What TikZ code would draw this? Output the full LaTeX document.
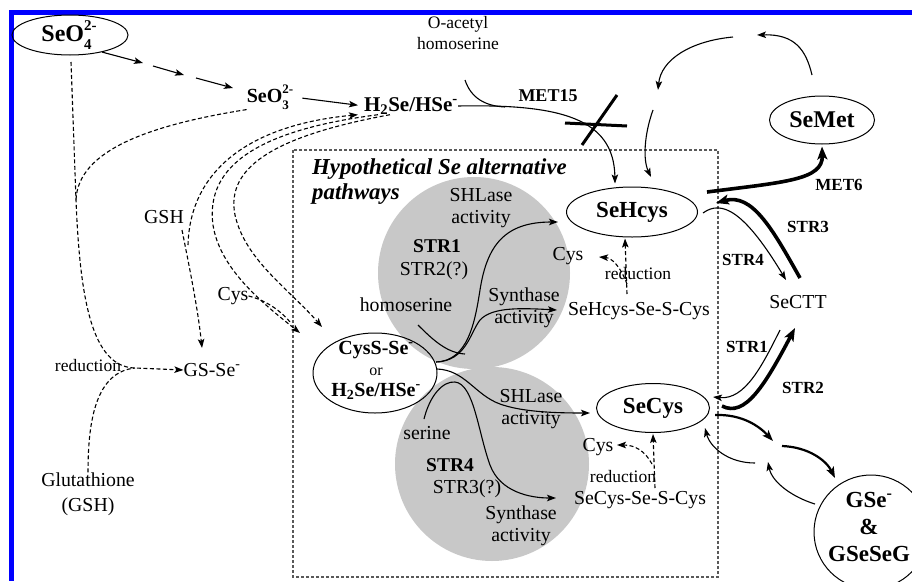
\documentclass[tikz,border=0pt]{standalone}
\usepackage{fontspec}
\setmainfont{Liberation Serif}
\usetikzlibrary{shapes.geometric,arrows.meta}
\definecolor{cg}{RGB}{200,200,200}
\definecolor{fblue}{RGB}{0,0,255}
\newcommand\fs[2]{\fontsize{#1}{#2}\selectfont}
\newcommand\sbsp[3]{\makebox[0pt][l]{\raisebox{-0.32em}{\fs{#1}{#1}#2}}\raisebox{0.48em}{\fs{#1}{#1}#3}}
\begin{document}
\begin{tikzpicture}[x=1pt,y=-1pt,
 ln/.style={line width=1.1pt},
 arr/.style={line width=1.1pt,-{Stealth[length=9pt,width=6.5pt,inset=2pt]}},
 dln/.style={line width=1.1pt,dash pattern=on 4pt off 2.5pt},
 darr/.style={dln,-{Stealth[length=9pt,width=6.5pt,inset=2pt]}},
 heavy/.style={line width=3.6pt,-{Stealth[length=13pt,width=10pt,inset=3pt]}},
 medium/.style={line width=2.2pt,-{Stealth[length=11pt,width=8pt,inset=2.5pt]}},
 ellsh/.style={ellipse,draw,line width=1pt,inner sep=0pt},
 txt/.style={inner sep=0pt,align=center,font=\fs{19.8}{22}},
 txtb/.style={inner sep=0pt,align=center,font=\fs{19.5}{22}\bfseries},
 lb/.style={inner sep=0pt,font=\fs{17}{20}\bfseries},
 rtxt/.style={inner sep=0pt,font=\fs{17.5}{20}},
 boxd/.style={line width=1.1pt,dash pattern=on 3pt off 2pt,black!65}
]
\useasboundingbox (0,0) rectangle (912,581);
\begin{scope}
\clip (0,0) rectangle (912,581);
% frame
\fill[fblue] (8.5,9.5) rectangle (912,14.5);
\fill[fblue] (8.5,9.5) rectangle (13.5,581);
% grey discs and dashed box
\fill[cg] (474,273) circle[radius=96pt];
\fill[cg] (492,464) circle[radius=97pt];
\draw[boxd] (293,150) rectangle (718,577);

% ---------- nodes ----------
\node[ellsh,minimum width=116pt,minimum height=40pt] (seo4) at (70,35) {};
\node[inner sep=0pt,font=\fs{24}{24}\bfseries] (seo4t) at (69,35) {SeO\sbsp{15}{4}{2-}};
\node[inner sep=0pt,font=\fs{20}{20}\bfseries] (seo3) at (270,97) {SeO\sbsp{13}{3}{2-}};
\node[inner sep=0pt,font=\fs{21}{21}\bfseries] (h2se) at (411,106) {H\textsubscript{2}Se/HSe\textsuperscript{-}};
\node[inner sep=0pt,align=center,font=\fs{17.5}{21}] (oacetyl) at (458,33) {O-acetyl\\homoserine};
\node[inner sep=0pt,font=\fs{18}{18}\bfseries] (met15) at (548,96) {MET15};
\node[ellsh,minimum width=105pt,minimum height=48pt] (semet) at (822,120) {};
\node[inner sep=0pt,font=\fs{24}{24}\bfseries] (semett) at (822,120) {SeMet};
\node[anchor=north west,inner sep=0pt,align=left,font=\fs{22.8}{25}\bfseries\itshape] (hypo) at (312,158) {Hypothetical Se alternative\\pathways};

\node[txt] (shl1) at (481,208) {SHLase\\activity};
\node[txtb] (str1) at (437,246) {STR1};
\node[txt] (str2q) at (434,271) {STR2(?)};
\node[txt] (homos) at (406,305) {homoserine};
\node[txt] (syn1) at (524,308) {Synthase\\activity};
\node[ellsh,minimum width=131pt,minimum height=50pt] (sehcys) at (632,212) {};
\node[inner sep=0pt,font=\fs{23}{23}\bfseries] (sehcyst) at (632,212) {SeHcys};
\node[txt] (cys1) at (568,256) {Cys};
\node[rtxt] (red1) at (638,274) {reduction};
\node[txt] (sehss) at (639,311) {SeHcys-Se-S-Cys};

\node[ellsh,minimum width=124pt,minimum height=80pt] (cyss) at (375,373) {};
\node[inner sep=0pt,align=center,font=\fs{20}{21}\bfseries] (cysst) at (376,370) {CysS-Se\textsuperscript{-}\\{\fs{16}{21}\mdseries or}\\H\textsubscript{2}Se/HSe\textsuperscript{-}};

\node[txt] (serine) at (427,433) {serine};
\node[txtb] (str4) at (450,465) {STR4};
\node[txt] (str3q) at (467,489) {STR3(?)};
\node[txt] (shl2) at (531,409) {SHLase\\activity};
\node[txt] (syn2) at (521,526) {Synthase\\activity};
\node[ellsh,minimum width=113pt,minimum height=49pt] (secys) at (653,408) {};
\node[inner sep=0pt,font=\fs{23}{23}\bfseries] (secyst) at (653,408) {SeCys};
\node[txt] (cys2) at (598,447) {Cys};
\node[rtxt] (red2) at (623,477) {reduction};
\node[txt] (secyss) at (640,500) {SeCys-Se-S-Cys};

\node[txt] (sectt) at (798,302) {SeCTT};
\node[lb] (met6) at (839,185) {MET6};
\node[lb] (str3r) at (808,227) {STR3};
\node[lb] (str4r) at (743,260) {STR4};
\node[lb] (str1r) at (747,347) {STR1};
\node[lb] (str2r) at (803,388) {STR2};
\node[circle,draw,line width=1pt,minimum size=114pt,inner sep=0pt] (gse) at (871,532) {};
\node[inner sep=0pt,align=center,font=\fs{23}{27}\bfseries] (gset) at (869,527) {GSe\textsuperscript{-}\\\&\\GSeSeG};

\node[txt] (gsh) at (164,217) {GSH};
\node[txt] (cysl) at (233,296) {Cys};
\node[txt] (gsse) at (212,370) {GS-Se\textsuperscript{-}};
\node[rtxt] (redl) at (88,366) {reduction};
\node[txt,font=\fs{19.8}{25}] (glut) at (88,494) {Glutathione\\(GSH)};

% ---------- coordinates ----------
\coordinate (ch1e) at (143,63);
\coordinate (ch2s) at (153,66);
\coordinate (ch2e) at (184,75);
\coordinate (ch3s) at (196,78);
\coordinate (ch3e) at (233,88);
\coordinate (oa1) at (465,80);
\coordinate (oa2) at (505,107);
\coordinate (x1a) at (565,123); \coordinate (x1b) at (627,126);
\coordinate (x2a) at (582,145); \coordinate (x2b) at (617,95);
\coordinate (cy1) at (733,37); \coordinate (cy1e) at (658,90);
\coordinate (cy2) at (812,75); \coordinate (cy2e) at (757,35);
\coordinate (cy3) at (653,110); \coordinate (cy3e) at (651,177);
\coordinate (m6s) at (707,192);
\coordinate (st3s) at (800,278); \coordinate (st3e) at (716,203);
\coordinate (st4s) at (703,213); \coordinate (st4e) at (786,280);
\coordinate (st1s) at (780,330); \coordinate (st1e) at (713,397);
\coordinate (st2s) at (722,406); \coordinate (st2e) at (795,328);
\coordinate (g1s) at (715,415); \coordinate (g1e) at (773,441);
\coordinate (g2s) at (782,446); \coordinate (g2e) at (835,478);
\coordinate (g3s) at (815,504); \coordinate (g3e) at (768,462);
\coordinate (g4s) at (755,463); \coordinate (g4e) at (705,428);
\coordinate (r1s) at (627,294); \coordinate (r1b) at (627,284); \coordinate (r1c) at (599,257);
\coordinate (r2s) at (655,488); \coordinate (r2b) at (652,464); \coordinate (r2c) at (617,445);
\coordinate (j1) at (436,362); \coordinate (j2) at (437,369);
\coordinate (p1e) at (558,222); \coordinate (p2e) at (557,310);
\coordinate (p3e) at (590,413); \coordinate (p4s) at (424,419); \coordinate (p4e) at (556,498);
\coordinate (hs1) at (418,325); \coordinate (hs2) at (465,354);
\coordinate (v0) at (71,62); \coordinate (vm) at (76,200); \coordinate (vj) at (135,368);
\coordinate (gsh1) at (182,230); \coordinate (gsh2) at (202,348);
\coordinate (om) at (188,245);
\coordinate (ti1) at (300,333); \coordinate (ti2) at (322,327);
\coordinate (cyj) at (290,322);

% ---------- connectors ----------
\draw[arr] (seo4.-28) -- (ch1e);
\draw[arr] (ch2s) -- (ch2e);
\draw[arr] (ch3s) -- (ch3e);
\draw[arr,shorten <=9pt,shorten >=6pt] (seo3.east) -- (h2se.west);
\draw[arr] (h2se.east) .. controls (560,104) and (614,118) .. ([xshift=-17pt,yshift=3pt]sehcys.north);
\draw[ln] (oa1) .. controls (471,98) and (485,106) .. (oa2);
\draw[line width=3pt] (x1a) -- (x1b);
\draw[line width=3pt] (x2a) -- (x2b);
\draw[arr] (cy1) .. controls (690,41) and (661,60) .. (cy1e);
\draw[arr] (cy2) .. controls (806,50) and (795,34) .. (cy2e);
\draw[arr] (cy3) .. controls (644,135) and (643,160) .. (cy3e);

\draw[heavy] (m6s) .. controls (785,182) and (823,180) .. ([yshift=-2pt]semet.south);
\draw[heavy] (st3s) .. controls (772,228) and (752,193) .. (st3e);
\draw[arr] (st4s) .. controls (722,199) and (745,212) .. (st4e);
\draw[arr] (st1s) .. controls (762,366) and (745,400) .. (st1e);
\draw[heavy] (st2s) .. controls (745,418) and (765,385) .. (st2e);
\draw[medium] (g1s) .. controls (743,414) and (760,427) .. (g1e);
\draw[medium] (g2s) .. controls (808,447) and (826,460) .. (g2e);
\draw[arr] (g3s) .. controls (792,497) and (772,482) .. (g3e);
\draw[arr] (g4s) .. controls (728,463) and (710,447) .. (g4e);

% inner reductions
\draw[darr] (r1s) -- ([xshift=-7pt,yshift=-1pt]sehcys.south);
\draw[darr] (r1b) .. controls (620,266) and (612,258) .. (r1c);
\draw[darr] (r2s) -- ([yshift=-1pt]secys.south);
\draw[darr] (r2b) .. controls (645,451) and (635,445) .. (r2c);

% inner pathways
\draw[arr] (j1) .. controls (468,361) and (475,322) .. (480,290) .. controls (487,245) and (505,222) .. (p1e);
\draw[arr] (j1) .. controls (466,361) and (470,333) .. (480,320) .. controls (492,307) and (520,308) .. (p2e);
\draw[ln] (hs1) .. controls (433,340) and (447,353) .. (hs2);
\draw[arr] (j2) .. controls (465,370) and (475,395) .. (500,404) .. controls (522,412) and (555,413) .. (p3e);
\draw[arr] (p4s) .. controls (430,395) and (443,381) .. (455,382) .. controls (474,384) and (478,432) .. (490,465) .. controls (500,492) and (530,498) .. (p4e);

% left dashed network
\draw[darr] (v0) -- (vm) .. controls (80,300) and (92,367) .. (vj) -- (gsse.west);
\draw[dln] (seo3.south west) .. controls (150,125) and (78,150) .. (vm);
\draw[dln] (glut.north) .. controls (88,420) and (96,372) .. (vj);
\draw[darr] (gsh1) .. controls (190,270) and (198,310) .. (gsh2);
\draw[darr] (om) .. controls (190,170) and (250,125) .. ([xshift=-6pt]h2se.south west);
\draw[darr] ([xshift=14pt]h2se.south west) .. controls (260,130) and (205,165) .. (213,225) .. controls (220,270) and (265,305) .. (ti1);
\draw[darr] ([xshift=26pt]h2se.south west) .. controls (280,135) and (225,165) .. (235,215) .. controls (245,260) and (290,290) .. (ti2);
\draw[dln] (cysl.east) .. controls (265,300) and (280,310) .. (cyj);
\end{scope}
\end{tikzpicture}
\end{document}
